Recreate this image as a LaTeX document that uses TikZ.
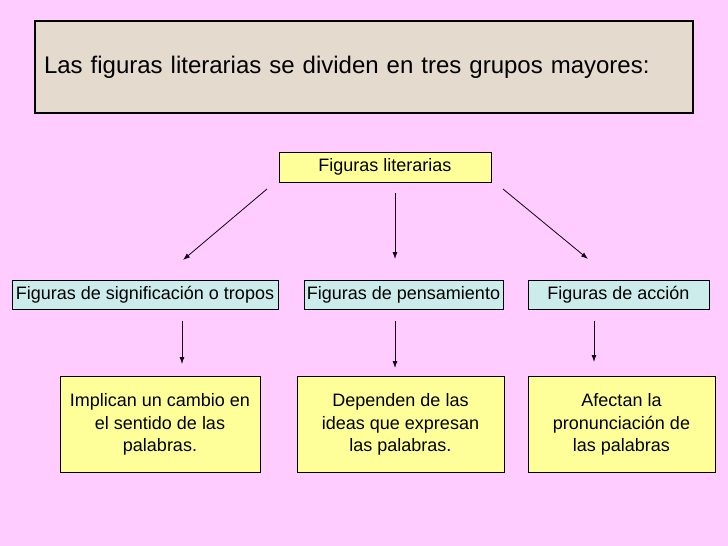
\documentclass[tikz,border=0pt]{standalone}
\usepackage{fontspec}
\setmainfont{Liberation Sans}
\usetikzlibrary{arrows.meta,positioning}

\definecolor{bgpink}{RGB}{255,204,255}
\definecolor{titlegray}{RGB}{228,218,206}
\definecolor{boxyellow}{RGB}{255,255,153}
\definecolor{boxteal}{RGB}{204,236,236}

\tikzset{
    titlebox/.style={draw=black, line width=2pt, fill=titlegray, inner ysep=0pt, inner xsep=9pt,
        text width=640pt, align=left, minimum height=92pt, font=\fontsize{24}{29}\selectfont},
    mainbox/.style={draw=black, line width=0.8pt, fill=boxyellow, inner sep=0pt,
        minimum width=212pt, minimum height=30pt, font=\fontsize{18}{22}\selectfont},
    groupbox/.style={draw=black, line width=0.8pt, fill=boxteal, inner sep=0pt,
        minimum height=29pt, font=\fontsize{18}{22}\selectfont},
    descbox/.style={draw=black, line width=0.8pt, fill=boxyellow, inner sep=0pt,
        minimum height=96pt, align=center, font=\fontsize{18}{22.5}\selectfont},
    arrowline/.style={draw=black!85!violet, line width=0.8pt, -{Latex[length=7pt,width=5pt]}}
}

\begin{document}
\begin{tikzpicture}[x=1pt, y=-1pt]

    \fill[bgpink] (0,0) rectangle (728,546); % page background
    \useasboundingbox (0,0) rectangle (728,546);

    \node[titlebox] (title) at (364,67) {Las figuras literarias se dividen en tres grupos mayores:}; % heading
    \node[mainbox] (lit) at (385,167) {Figuras literarias}; % root

    \node[groupbox, minimum width=266pt] (sig) at (145,294.5) {Figuras de significación o tropos}; % left group
    \node[groupbox, minimum width=199pt] (pen) at (403.5,294.5) {Figuras de pensamiento}; % middle group
    \node[groupbox, minimum width=181pt] (acc) at (618.5,294.5) {Figuras de acción}; % right group

    \node[descbox, minimum width=200pt] (sigd) at (160,424.5) {Implican un cambio en\\el sentido de las\\palabras.}; % left text
    \node[descbox, minimum width=207pt] (pend) at (400.5,424.5) {Dependen de las\\ideas que expresan\\las palabras.}; % middle text
    \node[descbox, minimum width=187pt] (accd) at (621.5,424.5) {Afectan la\\pronunciación de\\las palabras}; % right text

    % free arrow ends
    \coordinate (litl) at (267,189); % under root, left
    \coordinate (litc) at (395,193); % under root, middle
    \coordinate (litr) at (503,189); % under root, right
    \coordinate (sigt) at (183,260); % above left group
    \coordinate (pent) at (395,259); % above middle group
    \coordinate (acct) at (588,259); % above right group
    \coordinate (sigb) at (182,321); % under left group
    \coordinate (penb) at (395,321); % under middle group
    \coordinate (accb) at (594,321); % under right group
    \coordinate (sigdt) at (182,364); % above left text
    \coordinate (pendt) at (395,368); % above middle text
    \coordinate (accdt) at (594,362); % above right text

    \draw[arrowline] (litl) -- (sigt);
    \draw[arrowline] (litc) -- (pent);
    \draw[arrowline] (litr) -- (acct);
    \draw[arrowline] (sigb) -- (sigdt);
    \draw[arrowline] (penb) -- (pendt);
    \draw[arrowline] (accb) -- (accdt);

\end{tikzpicture}
\end{document}
